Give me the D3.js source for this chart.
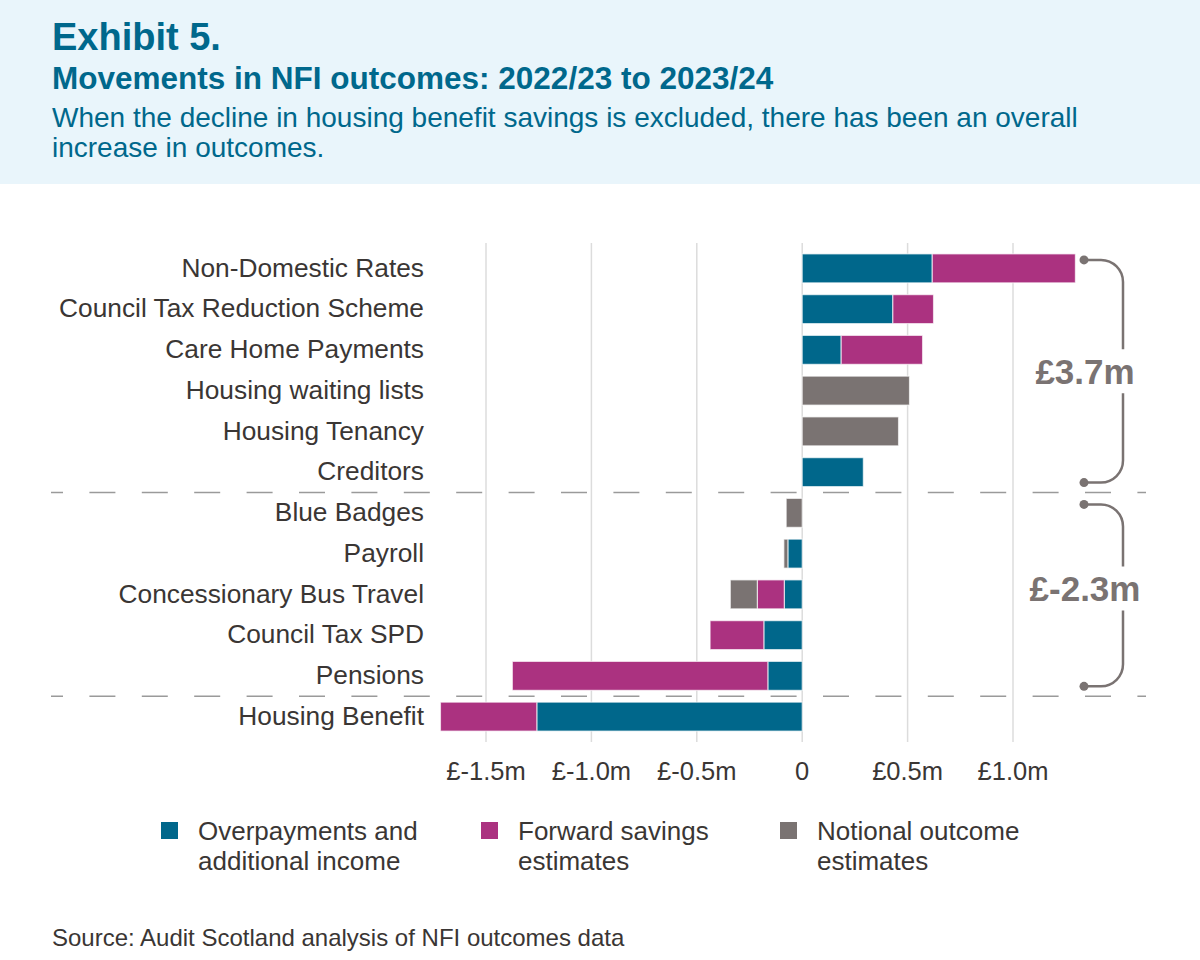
<!DOCTYPE html>
<html lang="en">
<head>
  <meta charset="UTF-8" />
  <title>Exhibit 5 - Movements in NFI outcomes</title>
  <script src="https://d3js.org/d3.v7.min.js"></script>
  <style>
    body { margin: 0; background: #fff; }
    svg { display: block; font-family: "Liberation Sans", Arial, sans-serif; }
  </style>
</head>
<body>
<svg id="chart" width="1200" height="960"></svg>
<script>
  // data read from the exhibit (£m)
  var categories = [
    "Non-Domestic Rates", "Council Tax Reduction Scheme", "Care Home Payments",
    "Housing waiting lists", "Housing Tenancy", "Creditors",
    "Blue Badges", "Payroll", "Concessionary Bus Travel",
    "Council Tax SPD", "Pensions", "Housing Benefit"
  ]
  var overpayments   = [0.617, 0.430, 0.185, 0, 0, 0.290, 0, -0.068, -0.085, -0.182, -0.163, -1.259]
  var forwardSavings = [0.679, 0.193, 0.386, 0, 0, 0, 0, 0, -0.128, -0.255, -1.212, -0.457]
  var notional       = [0, 0, 0, 0.509, 0.457, 0, -0.076, -0.019, -0.128, 0, 0, 0]

  var tickValues = [-1.5, -1.0, -0.5, 0, 0.5, 1.0]
  var tickLabels = ["£-1.5m", "£-1.0m", "£-0.5m", "0", "£0.5m", "£1.0m"]

  var seriesKeys   = ["overpayments", "forwardSavings", "notional"]
  var seriesColors = ["#00678b", "#ab3280", "#7a7372"]
  var legendLines  = [["Overpayments and", "additional income"], ["Forward savings", "estimates"], ["Notional outcome", "estimates"]]

  // groups marked with the braces on the right
  var groups = [
    { first: "Non-Domestic Rates", last: "Creditors", label: "£3.7m", shift: 0 },
    { first: "Blue Badges", last: "Pensions", label: "£-2.3m", shift: -7 }
  ]
  // dashed separators sit after these rows
  var separatorsAfter = ["Creditors", "Pensions"]

  var teal = "#00688c"
  var textColor = "#3a3634"
  var grey = "#7a7372"

  var svg = d3.select("#chart")
  var width = +svg.attr("width")

  // header band
  svg.append("rect").attr("x", 0).attr("y", 0).attr("width", width).attr("height", 184).attr("fill", "#e9f5fb")
  svg.append("text").attr("x", 52).attr("y", 50).attr("fill", teal)
    .attr("font-size", 38).attr("font-weight", "bold").text("Exhibit 5.")
  svg.append("text").attr("x", 52).attr("y", 89).attr("fill", teal)
    .attr("font-size", 31.5).attr("font-weight", "bold").text("Movements in NFI outcomes: 2022/23 to 2023/24")
  var desc = svg.append("text").attr("x", 52).attr("y", 127).attr("fill", teal).attr("font-size", 28)
  desc.append("tspan").attr("x", 52).text("When the decline in housing benefit savings is excluded, there has been an overall")
  desc.append("tspan").attr("x", 52).attr("dy", 30).text("increase in outcomes.")

  // scales
  var x = d3.scaleLinear().domain([-1.5, 1.0]).range([486, 1013])
  var y = d3.scaleBand().domain(categories).range([248, 737]).paddingInner(0.29).paddingOuter(0.145)

  var rows = categories.map(function (c, i) {
    return { category: c, overpayments: overpayments[i], forwardSavings: forwardSavings[i], notional: notional[i] }
  })
  var stacked = d3.stack().keys(seriesKeys).offset(d3.stackOffsetDiverging)(rows)

  // gridlines
  svg.append("g").selectAll("line").data(tickValues).join("line")
    .attr("x1", function (d) { return x(d) }).attr("x2", function (d) { return x(d) })
    .attr("y1", 243).attr("y2", 742)
    .attr("stroke", "#dcdcdc").attr("stroke-width", 1.5)

  // dashed separators
  svg.append("g").selectAll("line").data(separatorsAfter).join("line")
    .attr("x1", 51).attr("x2", 1146)
    .attr("y1", function (d) { return y(d) + y.bandwidth() + (y.step() - y.bandwidth()) / 2 })
    .attr("y2", function (d) { return y(d) + y.bandwidth() + (y.step() - y.bandwidth()) / 2 })
    .attr("stroke", "#9a9a9a").attr("stroke-width", 1.5)
    .attr("stroke-dasharray", "26,26.4").attr("stroke-dashoffset", 14)

  // bars
  svg.append("g").selectAll("g").data(stacked).join("g")
    .attr("fill", function (d, i) { return seriesColors[i] })
    .selectAll("rect").data(function (d) { return d.filter(function (p) { return p[1] - p[0] !== 0 }) }).join("rect")
    .attr("x", function (d) { return x(Math.min(d[0], d[1])) })
    .attr("width", function (d) { return Math.abs(x(d[1]) - x(d[0])) })
    .attr("y", function (d) { return y(d.data.category) })
    .attr("height", y.bandwidth())
    .attr("stroke", "#ffffff").attr("stroke-opacity", 0.65).attr("stroke-width", 1.2)

  // category labels
  svg.append("g").selectAll("text").data(categories).join("text")
    .attr("x", 424).attr("y", function (d) { return y(d) + y.bandwidth() / 2 - 1 })
    .attr("dy", "0.35em").attr("text-anchor", "end")
    .attr("font-size", 26.3).attr("fill", textColor)
    .text(function (d) { return d })

  // x tick labels
  svg.append("g").selectAll("text").data(tickValues).join("text")
    .attr("x", function (d) { return x(d) }).attr("y", 780)
    .attr("text-anchor", "middle").attr("font-size", 25.5).attr("fill", textColor)
    .text(function (d, i) { return tickLabels[i] })

  // braces
  var bx0 = 1084, bx1 = 1123, r = 22
  groups.forEach(function (g) {
    var y0 = y(g.first) + 6
    var y1 = y(g.last) + y.bandwidth() - 4
    var mid = (y0 + y1) / 2 + g.shift
    var gap0 = mid - 22, gap1 = mid + 22
    var b = svg.append("g").attr("stroke", grey).attr("stroke-width", 2.5).attr("fill", "none")
    b.append("path").attr("d", "M" + bx0 + "," + y0 + "H" + (bx1 - r) + "A" + r + "," + r + " 0 0 1 " + bx1 + "," + (y0 + r) + "V" + gap0)
    b.append("path").attr("d", "M" + bx1 + "," + gap1 + "V" + (y1 - r) + "A" + r + "," + r + " 0 0 1 " + (bx1 - r) + "," + y1 + "H" + bx0)
    svg.append("circle").attr("cx", bx0).attr("cy", y0).attr("r", 4.5).attr("fill", grey)
    svg.append("circle").attr("cx", bx0).attr("cy", y1).attr("r", 4.5).attr("fill", grey)
    svg.append("text").attr("x", 1085).attr("y", mid).attr("dy", "0.36em")
      .attr("text-anchor", "middle").attr("font-size", 35).attr("font-weight", "bold").attr("fill", grey)
      .text(g.label)
  })

  // legend
  var legendX = [161, 481, 780]
  var legend = svg.append("g").selectAll("g").data(legendLines).join("g")
    .attr("transform", function (d, i) { return "translate(" + legendX[i] + ",822)" })
  legend.append("rect").attr("width", 17).attr("height", 17)
    .attr("fill", function (d, i) { return seriesColors[i] })
  legend.append("text").attr("x", 37).attr("y", 18).attr("font-size", 26).attr("fill", textColor)
    .selectAll("tspan").data(function (d) { return d }).join("tspan")
    .attr("x", 37).attr("dy", function (d, i) { return i === 0 ? 0 : 30 })
    .text(function (d) { return d })

  // source
  svg.append("text").attr("x", 52).attr("y", 946).attr("font-size", 24).attr("fill", textColor)
    .text("Source: Audit Scotland analysis of NFI outcomes data")
</script>
</body>
</html>
